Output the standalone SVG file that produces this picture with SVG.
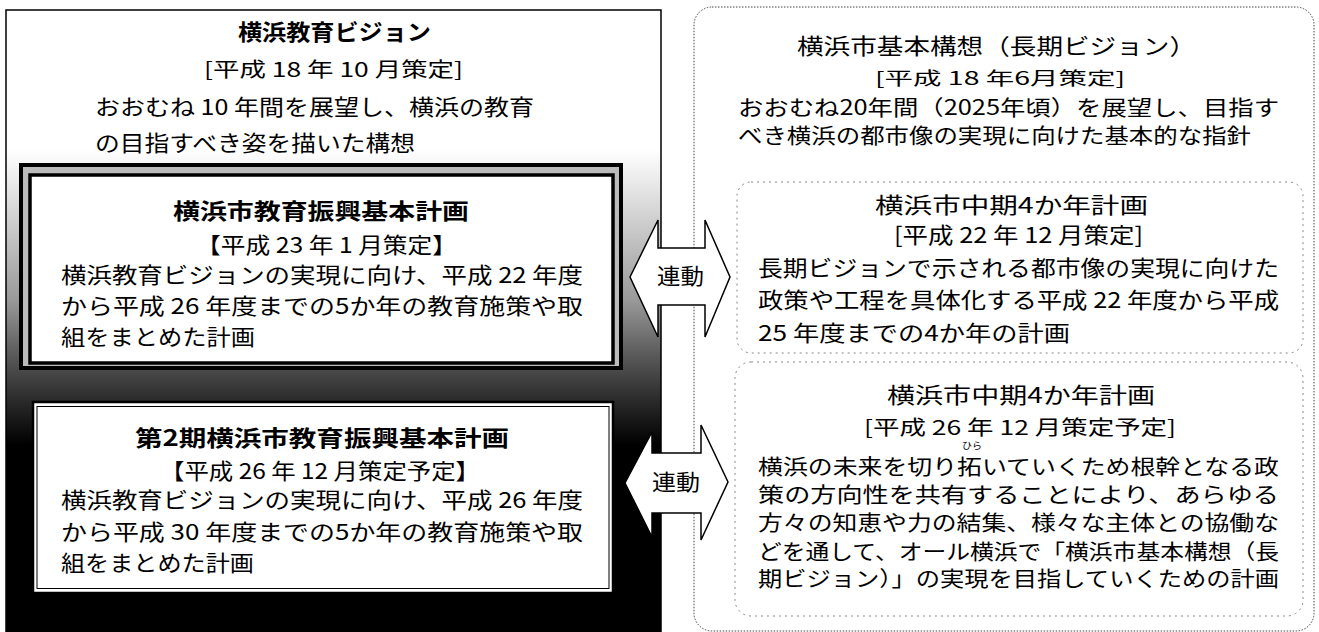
<svg xmlns="http://www.w3.org/2000/svg" width="1319" height="632" viewBox="0 0 1319 632">
<defs>
<style>
text{font-family:"Noto Sans CJK JP","Noto Sans",sans-serif;fill:#000;font-size:22px}
.b{font-weight:700}
.s{font-size:20px}
.xs{font-size:18px}
.t{font-size:21px}
.lnk{font-size:22px}
.rb{font-size:9px}
.dot{fill:none;stroke:#444;stroke-width:1;stroke-dasharray:1.5 1.5}
.dot2{fill:none;stroke:#888;stroke-width:1;stroke-dasharray:2 4}
.arrow{fill:#fff;stroke:#000;stroke-width:1.5;stroke-linejoin:miter}
</style>
<linearGradient id="lg" gradientUnits="userSpaceOnUse" x1="0" y1="150" x2="0" y2="445">
<stop offset="0" stop-color="#fff"/>
<stop offset="0.17" stop-color="#ddd"/>
<stop offset="0.51" stop-color="#999"/>
<stop offset="0.71" stop-color="#555"/>
<stop offset="0.85" stop-color="#2a2a2a"/>
<stop offset="1" stop-color="#000"/>
</linearGradient>
</defs>
<rect x="0" y="0" width="1319" height="632" fill="#fff"/>

<g id="vision-panel">
<rect x="6" y="10" width="655" height="630" fill="url(#lg)" stroke="#000" stroke-width="1.5"/>
<text class="b" x="238" y="40" textLength="193" lengthAdjust="spacingAndGlyphs">横浜教育ビジョン</text>
<text class="s" x="204" y="77" textLength="259" lengthAdjust="spacingAndGlyphs">[平成 18 年 10 月策定]</text>
<text x="95" y="115" textLength="439" lengthAdjust="spacingAndGlyphs">おおむね 10 年間を展望し、横浜の教育</text>
<text x="95" y="151" textLength="320" lengthAdjust="spacingAndGlyphs">の目指すべき姿を描いた構想</text>
</g>

<g id="plan1">
<rect x="21" y="165" width="600" height="203" fill="#bbb" stroke="#000" stroke-width="4"/>
<rect x="30" y="175" width="583" height="188" fill="#fff" stroke="#000" stroke-width="3.5"/>
<text class="b" x="173" y="219" textLength="296" lengthAdjust="spacingAndGlyphs">横浜市教育振興基本計画</text>
<text x="196" y="253" textLength="261" lengthAdjust="spacingAndGlyphs">【平成 23 年 1 月策定】</text>
<text x="61" y="283" textLength="522" lengthAdjust="spacingAndGlyphs">横浜教育ビジョンの実現に向け、平成 22 年度</text>
<text x="61" y="314" textLength="522" lengthAdjust="spacingAndGlyphs">から平成 26 年度までの5か年の教育施策や取</text>
<text x="61" y="345" textLength="194" lengthAdjust="spacingAndGlyphs">組をまとめた計画</text>
</g>

<g id="plan2">
<rect x="33" y="402" width="580" height="191" fill="#fff" stroke="#000" stroke-width="2.5"/>
<rect x="37" y="406.5" width="572" height="182" fill="none" stroke="#000" stroke-width="1"/>
<text class="b" x="135" y="446" textLength="374" lengthAdjust="spacingAndGlyphs">第2期横浜市教育振興基本計画</text>
<text x="160" y="479" textLength="320" lengthAdjust="spacingAndGlyphs">【平成 26 年 12 月策定予定】</text>
<text x="61" y="508" textLength="522" lengthAdjust="spacingAndGlyphs">横浜教育ビジョンの実現に向け、平成 26 年度</text>
<text x="61" y="540" textLength="522" lengthAdjust="spacingAndGlyphs">から平成 30 年度までの5か年の教育施策や取</text>
<text x="61" y="571" textLength="193" lengthAdjust="spacingAndGlyphs">組をまとめた計画</text>
</g>

<g id="city-panel">
<rect x="694" y="7" width="620" height="624" rx="18" ry="18" fill="#fff" class="dot"/>
<text x="797" y="54" textLength="399" lengthAdjust="spacingAndGlyphs">横浜市基本構想（長期ビジョン）</text>
<text class="xs" x="875" y="85" textLength="250" lengthAdjust="spacingAndGlyphs">[平成 18 年6月策定]</text>
<text class="t" x="738" y="115" textLength="541" lengthAdjust="spacingAndGlyphs">おおむね20年間（2025年頃）を展望し、目指す</text>
<text class="t" x="738" y="143" textLength="513" lengthAdjust="spacingAndGlyphs">べき横浜の都市像の実現に向けた基本的な指針</text>
</g>

<g id="midterm1">
<rect x="737" y="182" width="566" height="171" rx="14" ry="14" class="dot2"/>
<text x="875" y="213" textLength="273" lengthAdjust="spacingAndGlyphs">横浜市中期4か年計画</text>
<text x="894" y="243" textLength="249" lengthAdjust="spacingAndGlyphs">[平成 22 年 12 月策定]</text>
<text x="758" y="276" textLength="521" lengthAdjust="spacingAndGlyphs">長期ビジョンで示される都市像の実現に向けた</text>
<text x="758" y="308" textLength="521" lengthAdjust="spacingAndGlyphs">政策や工程を具体化する平成 22 年度から平成</text>
<text x="758" y="341" textLength="312" lengthAdjust="spacingAndGlyphs">25 年度までの4か年の計画</text>
</g>

<g id="midterm2">
<rect x="735" y="362" width="568" height="254" rx="16" ry="16" class="dot2"/>
<text x="887" y="403" textLength="268" lengthAdjust="spacingAndGlyphs">横浜市中期4か年計画</text>
<text class="s" x="864" y="435" textLength="312" lengthAdjust="spacingAndGlyphs">[平成 26 年 12 月策定予定]</text>
<text class="rb" x="962" y="449" textLength="20" lengthAdjust="spacingAndGlyphs">ひら</text>
<text class="t" x="758" y="474" textLength="521" lengthAdjust="spacingAndGlyphs">横浜の未来を切り拓いていくため根幹となる政</text>
<text class="t" x="758" y="502" textLength="521" lengthAdjust="spacingAndGlyphs">策の方向性を共有することにより、あらゆる</text>
<text class="t" x="758" y="530" textLength="521" lengthAdjust="spacingAndGlyphs">方々の知恵や力の結集、様々な主体との協働な</text>
<text class="t" x="758" y="559" textLength="521" lengthAdjust="spacingAndGlyphs">どを通して、オール横浜で「横浜市基本構想（長</text>
<text class="t" x="758" y="586" textLength="521" lengthAdjust="spacingAndGlyphs">期ビジョン）」の実現を目指していくための計画</text>
</g>

<g id="connectors">
<g id="link1">
<polygon class="arrow" points="630,277 658,220 658,248 705,248 705,220 730,277 705,337 705,305 658,305 658,337"/>
<text class="lnk" x="657" y="284" textLength="47" lengthAdjust="spacingAndGlyphs">連動</text>
</g>
<g id="link2">
<polygon class="arrow" points="625,483 652,432 652,453 701,453 701,425 728,482 701,540 701,513 652,513 652,537"/>
<text class="lnk" x="652" y="490" textLength="48" lengthAdjust="spacingAndGlyphs">連動</text>
</g>
</g>
</svg>
